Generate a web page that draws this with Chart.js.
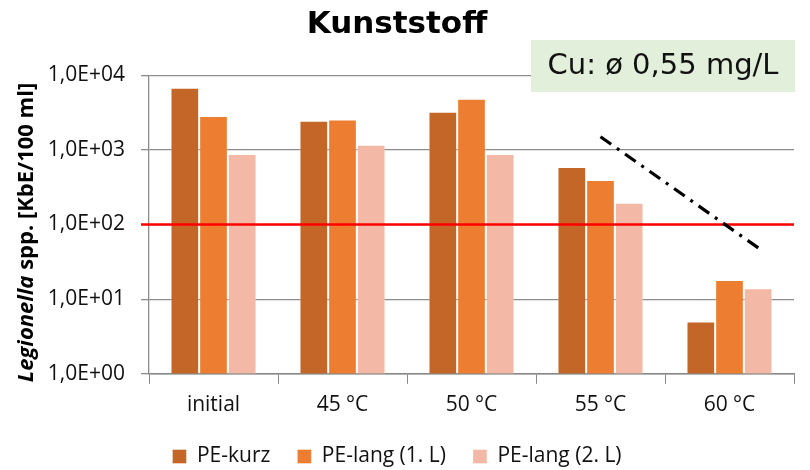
<!DOCTYPE html>
<html>
<head>
<meta charset="utf-8">
<script src="https://cdn.jsdelivr.net/npm/chart.js@4/dist/chart.umd.min.js"></script>
<style>
  html, body { margin: 0; padding: 0; background: #fff; }
  #wrap { width: 810px; height: 470px; }
</style>
</head>
<body>
<div id="wrap"><canvas id="c" width="810" height="470"></canvas></div>
<script>
// Categories and measured values (KbE/100 ml)
const categories = ['initial', '45 °C', '50 °C', '55 °C', '60 °C'];
const peKurz = [6800, 2450, 3250, 590, 5];
const peLang1 = [2850, 2550, 4850, 395, 18];
const peLang2 = [880, 1170, 880, 195, 14];

// Limit value and trend line (x given as category position)
const limitValue = 100;
const trendX = [3.0, 4.25];
const trendY = [1500, 45];

// Y axis ticks
const yTickValues = [1, 10, 100, 1000, 10000];
const yTickLabels = ['1,0E+00', '1,0E+01', '1,0E+02', '1,0E+03', '1,0E+04'];

const FONT = '"Open Sans", Lato, sans-serif';

// Reference lines drawn over the bars using the chart's own scales
const refLines = {
  id: 'refLines',
  afterDatasetsDraw(chart) {
    const ctx = chart.ctx;
    const xs = chart.scales.x, ys = chart.scales.y;
    const area = chart.chartArea;
    ctx.save();
    // limit value
    const yl = ys.getPixelForValue(limitValue);
    ctx.strokeStyle = '#FF0000';
    ctx.lineWidth = 2.6;
    ctx.beginPath();
    ctx.moveTo(area.left - 8, yl);
    ctx.lineTo(xs.getPixelForValue(categories.length - 0.5), yl);
    ctx.stroke();
    // trend
    ctx.strokeStyle = '#000';
    ctx.lineWidth = 3.2;
    ctx.setLineDash([13, 7, 3, 7]);
    ctx.beginPath();
    trendX.forEach((x, i) => {
      const px = xs.getPixelForValue(x), py = ys.getPixelForValue(trendY[i]);
      if (i === 0) ctx.moveTo(px, py); else ctx.lineTo(px, py);
    });
    ctx.stroke();
    ctx.restore();
  },
  afterDraw(chart) {
    const ctx = chart.ctx;
    const area = chart.chartArea;
    ctx.save();
    // copper concentration note
    ctx.fillStyle = '#E2EFDA';
    ctx.fillRect(531, 40, 264, 52);
    ctx.fillStyle = '#111';
    ctx.font = '29px "DejaVu Sans", sans-serif';
    ctx.textAlign = 'center';
    ctx.textBaseline = 'middle';
    ctx.fillText('Cu: ø 0,55 mg/L', 663, 66);
    ctx.restore();

    // y axis title with italic genus name
    ctx.save();
    const cy = (area.top + area.bottom) / 2 + 8;
    ctx.translate(27, cy);
    ctx.rotate(-Math.PI / 2);
    ctx.textBaseline = 'middle';
    ctx.fillStyle = '#000';
    const f1 = 'italic bold 22px ' + FONT;
    const f2 = 'bold 22px ' + FONT;
    const t1 = 'Legionella';
    const t2 = ' spp. [KbE/100 ml]';
    ctx.font = f1; const w1 = ctx.measureText(t1).width;
    ctx.font = f2; const w2 = ctx.measureText(t2).width;
    const x0 = -(w1 + w2) / 2;
    ctx.textAlign = 'left';
    ctx.font = f1; ctx.fillText(t1, x0, 0);
    ctx.font = f2; ctx.fillText(t2, x0 + w1, 0);
    ctx.restore();
  }
};

new Chart(document.getElementById('c'), {
  type: 'bar',
  data: {
    labels: categories,
    datasets: [
      { label: 'PE-kurz', data: peKurz, backgroundColor: '#C46628', borderColor: 'rgba(255,255,255,0.35)', borderWidth: 1 },
      { label: 'PE-lang (1. L)', data: peLang1, backgroundColor: '#ED7D31', borderColor: 'rgba(255,255,255,0.35)', borderWidth: 1 },
      { label: 'PE-lang (2. L)', data: peLang2, backgroundColor: '#F4B8A6', borderColor: 'rgba(255,255,255,0.35)', borderWidth: 1 }
    ]
  },
  options: {
    responsive: false,
    animation: false,
    devicePixelRatio: 1,
    categoryPercentage: 0.667,
    barPercentage: 1.0,
    layout: { padding: { left: 0, right: 16, top: 6, bottom: -7 } },
    plugins: {
      title: {
        display: true, text: 'Kunststoff', color: '#000',
        font: { family: '"DejaVu Sans", Verdana, sans-serif', size: 31, weight: 'bold' },
        padding: { top: 0, bottom: 32 }
      },
      legend: {
        display: true, position: 'bottom',
        labels: {
          color: '#111', font: { family: FONT, size: 21 },
          boxWidth: 14, boxHeight: 14, padding: 27
        }
      },
      tooltip: { enabled: false }
    },
    scales: {
      x: {
        type: 'category',
        offset: true,
        afterFit: (scale) => { scale.height -= 8; },
        grid: { display: true, drawOnChartArea: false, offset: true, color: '#888', tickLength: 10, tickColor: '#888' },
        border: { display: true, color: '#888', width: 1.5 },
        ticks: { color: '#111', font: { family: FONT, size: 21 }, padding: 9 }
      },
      y: {
        type: 'logarithmic', min: 1, max: 10000,
        afterBuildTicks: (scale) => { scale.ticks = yTickValues.map(v => ({ value: v })); },
        afterFit: (scale) => { scale.width = 149; },
        grid: { color: '#8C8C8C', lineWidth: 1.3, tickLength: 8, tickColor: '#8C8C8C' },
        border: { display: true, color: '#8C8C8C', width: 1.3 },
        ticks: {
          color: '#111', font: { family: FONT, size: 21 }, padding: 16,
          callback: (v) => { const i = yTickValues.indexOf(v); return i >= 0 ? yTickLabels[i] : ''; }
        }
      }
    }
  },
  plugins: [refLines]
});
</script>
</body>
</html>
